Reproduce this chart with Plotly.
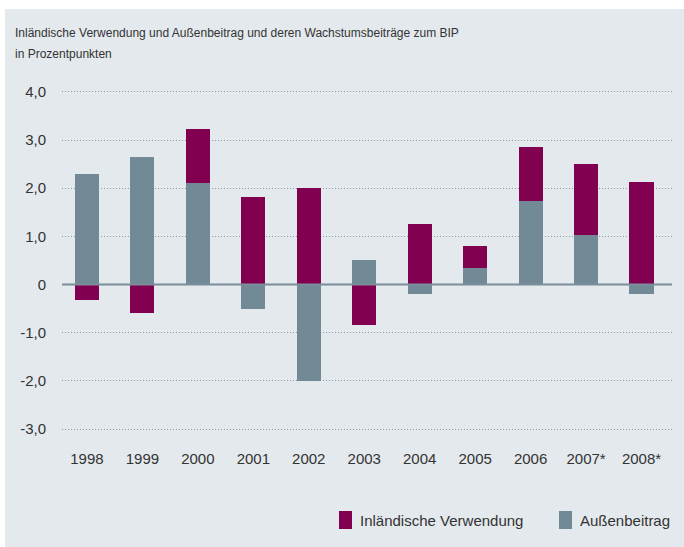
import plotly.graph_objects as go

years = ["1998", "1999", "2000", "2001", "2002", "2003", "2004", "2005", "2006", "2007*", "2008*"]
aussenbeitrag = [2.30, 2.65, 2.11, -0.50, -1.99, 0.52, -0.19, 0.35, 1.74, 1.02, -0.19]
inlaendisch = [-0.31, -0.58, 1.12, 1.82, 2.01, -0.83, 1.26, 0.46, 1.12, 1.49, 2.13]
tick_vals = [4, 3, 2, 1, 0, -1, -2, -3]
tick_text = ["4,0", "3,0", "2,0", "1,0", "0", "-1,0", "-2,0", "-3,0"]

PURPLE = "#820050"
GRAY = "#728996"
BG = "#e4e9ed"
TXT = "#333333"
FONT = "Liberation Sans, Arial, sans-serif"

W, H = 684, 547
L, R, T, B = 62, 12, 87, 113
pw, ph = W - L - R, H - T - B

def px(x):
    return (x - L) / pw

def py(y):
    return (H - B - y) / ph

fig = go.Figure()
fig.add_trace(go.Bar(x=years, y=aussenbeitrag, name="Außenbeitrag", marker_color=GRAY,
                     marker_line_width=0, width=0.433, showlegend=False))
fig.add_trace(go.Bar(x=years, y=inlaendisch, name="Inländische Verwendung", marker_color=PURPLE,
                     marker_line_width=0, width=0.433, showlegend=False))

shapes = [
    dict(type="rect", xref="paper", yref="paper", x0=px(5), x1=px(684), y0=py(547), y1=py(9),
         fillcolor=BG, line_width=0, layer="below"),
    dict(type="line", xref="paper", yref="y", x0=0, x1=1, y0=0, y1=0,
         line=dict(color="#7b8e9a", width=2), layer="above"),
    dict(type="rect", xref="paper", yref="paper", x0=px(339), x1=px(352), y0=py(529), y1=py(511),
         fillcolor=PURPLE, line_width=0),
    dict(type="rect", xref="paper", yref="paper", x0=px(559), x1=px(572), y0=py(529), y1=py(511),
         fillcolor=GRAY, line_width=0),
]

annotations = [
    dict(text="Inländische Verwendung und Außenbeitrag und deren Wachstumsbeiträge zum BIP",
         xref="paper", yref="paper", x=px(13), y=py(33), xanchor="left", yanchor="middle",
         showarrow=False, font=dict(family=FONT, size=12, color=TXT)),
    dict(text="in Prozentpunkten",
         xref="paper", yref="paper", x=px(13), y=py(54), xanchor="left", yanchor="middle",
         showarrow=False, font=dict(family=FONT, size=12, color=TXT)),
    dict(text="Inländische Verwendung", xref="paper", yref="paper", x=px(358), y=py(520),
         xanchor="left", yanchor="middle", showarrow=False, font=dict(family=FONT, size=15, color=TXT)),
    dict(text="Außenbeitrag", xref="paper", yref="paper", x=px(578), y=py(520),
         xanchor="left", yanchor="middle", showarrow=False, font=dict(family=FONT, size=15, color=TXT)),
]

fig.update_layout(
    width=W, height=H,
    margin=dict(l=L, r=R, t=T, b=B, pad=0),
    paper_bgcolor="white", plot_bgcolor="rgba(0,0,0,0)",
    barmode="relative", bargap=0,
    shapes=shapes, annotations=annotations,
    font=dict(family=FONT, size=15, color=TXT),
    xaxis=dict(type="category", range=[-0.45, 10.55], showgrid=False, zeroline=False,
               showline=False, ticks="", tickfont=dict(size=15, color=TXT), ticklabelstandoff=14),
    yaxis=dict(range=[-3.1, 4.1], tickvals=tick_vals, ticktext=tick_text, showgrid=True,
               gridcolor="#8a9ba6", griddash="1px,2px", gridwidth=1, zeroline=False, showline=False,
               ticks="", tickfont=dict(size=15, color=TXT), ticklabelstandoff=15),
)

fig.write_html("out.html")
